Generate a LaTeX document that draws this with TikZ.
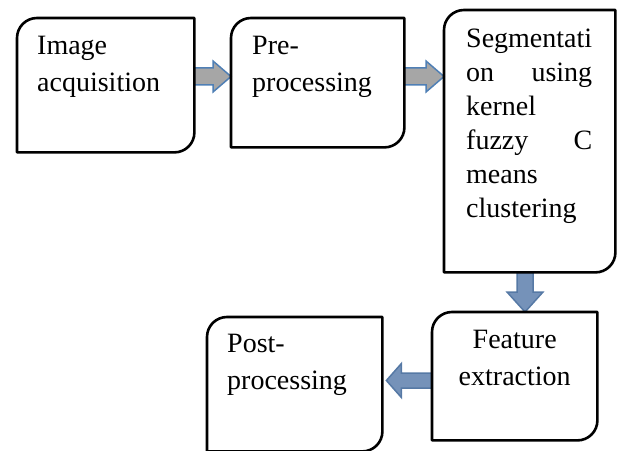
\documentclass[tikz,border=0pt]{standalone}
\usepackage{fontspec}
\setmainfont{Liberation Serif}
\usetikzlibrary{calc}
\definecolor{arrgray}{HTML}{A6A6A6}
\definecolor{arrblue}{HTML}{4F7FB5}
\definecolor{arrfill}{HTML}{7592B9}
\definecolor{arredge}{HTML}{5679A5}

\tikzset{
  stage/.style={rectangle, inner sep=0pt, anchor=north west},
  boxline/.style={line width=2.6pt, line join=round},
  txt/.style={font=\fontsize{28}{37}\selectfont, inner sep=0pt, text width=150pt, align=left},
  fat/.style args={#1/#2/#3}{to path={
      let \p1=(\tikztostart), \p2=(\tikztotarget),
          \n1={atan2(\y2-\y1,\x2-\x1)}, \n2={veclen(\x2-\x1,\y2-\y1)} in
      [shift={(\p1)}, rotate=\n1]
      (0,-#1) -- (\n2-#3,-#1) -- (\n2-#3,-#2) -- (\n2,0) -- (\n2-#3,#2) -- (\n2-#3,#1) -- (0,#1) -- cycle}},
  grayarr/.style={fill=arrgray, draw=arrblue, line width=1.5pt},
  bluearr/.style={fill=arrfill, draw=arredge, line width=1.5pt}
}

\begin{document}
\begin{tikzpicture}[x=1pt, y=1pt]
  \useasboundingbox (0,0) rectangle (617,450);
  % the five stages
  \node[stage, minimum width=177pt, minimum height=134pt,
        label={[txt, anchor=base west, xshift=20pt, yshift=-37pt]north west:Image\\acquisition}] (acq) at (17,432) {};
  \node[stage, minimum width=173pt, minimum height=129pt,
        label={[txt, anchor=base west, xshift=21pt, yshift=-37pt]north west:Pre-\\processing}] (pre) at (231,432) {};
  \node[stage, minimum width=171pt, minimum height=262pt,
        label={[txt, text width=126pt, font=\fontsize{28}{34}\selectfont, anchor=base west, xshift=22pt, yshift=-38pt]north west:Segmentati\\on\hfill using\\kernel\\fuzzy\hfill C\\means\\clustering}] (seg) at (444,440) {};
  \node[stage, minimum width=165pt, minimum height=128pt,
        label={[txt, text width=165pt, align=center, anchor=base, yshift=-36pt]north:Feature\\extraction}] (feat) at (432,138) {};
  \node[stage, minimum width=175pt, minimum height=134pt,
        label={[txt, anchor=base west, xshift=20pt, yshift=-35pt]north west:Post-\\processing}] (post) at (207,133) {};

  % arrows
  \coordinate (row) at (0,373.5);
  \coordinate (col) at (525,0);
  \coordinate (row2) at (0,69.5);
  \draw[grayarr, fat=8.5/15.5/18] (acq.east |- row) to (pre.west |- row);
  \draw[grayarr, fat=8.5/15.5/18] (pre.east |- row) to (seg.west |- row);
  \draw[bluearr, fat=8/18/20] (seg.south -| col) to (feat.north -| col);
  \draw[bluearr, fat=7.5/17/15] (feat.west |- row2) to ($(post.east |- row2)+(4,0)$);

  % box outlines
  \foreach \b in {acq,pre,seg,feat,post}
    \draw[boxline] (\b.south west) -- ([yshift=-20pt]\b.north west)
      arc[start angle=180, end angle=90, radius=20pt] -- (\b.north east)
      -- ([yshift=20pt]\b.south east) arc[start angle=0, end angle=-90, radius=20pt] -- cycle;
\end{tikzpicture}
\end{document}
